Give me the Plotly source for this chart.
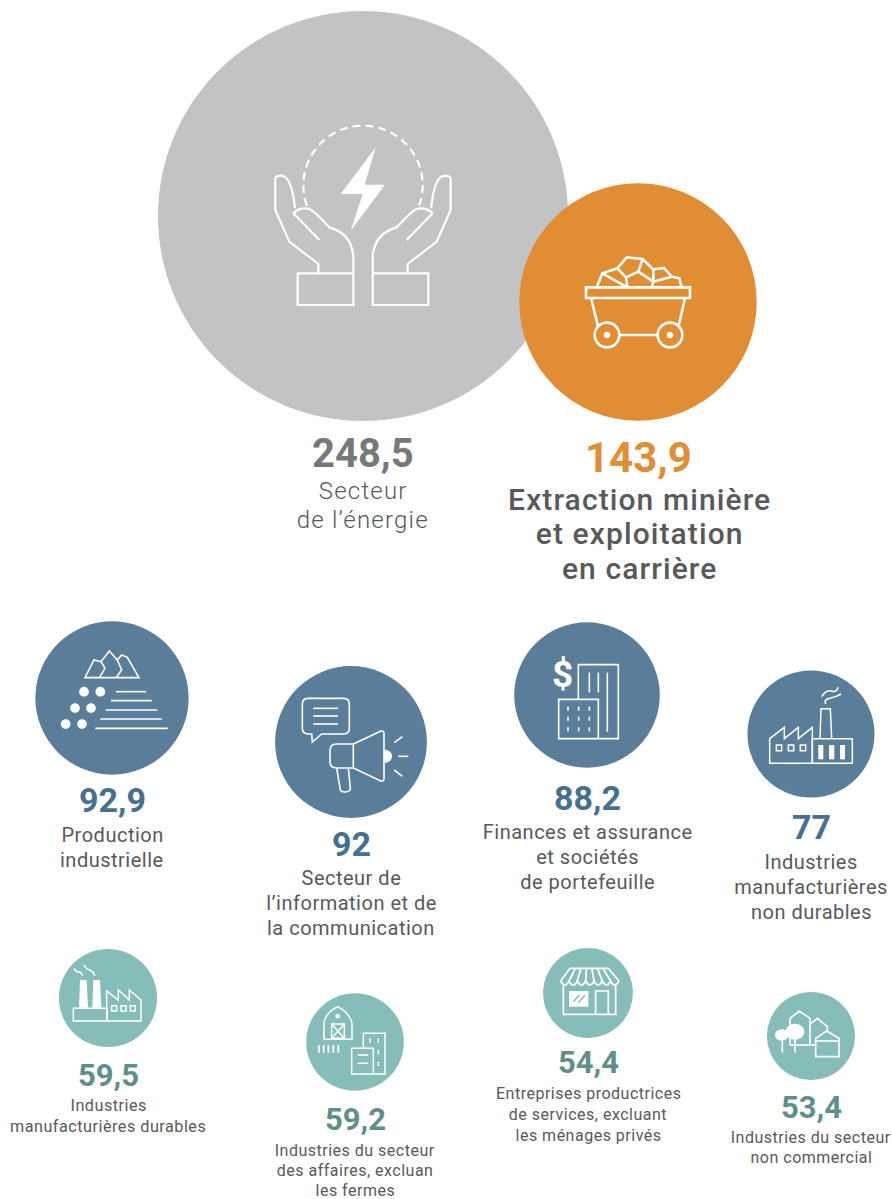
import re
import numpy as np
import plotly.graph_objects as go

W, H = 892, 1199

# ---- data ----
value_labels = ["248,5", "143,9", "92,9", "92", "88,2", "77", "59,5", "59,2", "54,4", "53,4"]
values = [248.5, 143.9, 92.9, 92, 88.2, 77, 59.5, 59.2, 54.4, 53.4]
categories = [
    ["Secteur", "de l’énergie"],
    ["Extraction minière", "et exploitation", "en carrière"],
    ["Production", "industrielle"],
    ["Secteur de", "l’information et de", "la communication"],
    ["Finances et assurance", "et sociétés", "de portefeuille"],
    ["Industries", "manufacturières", "non durables"],
    ["Industries", "manufacturières durables"],
    ["Industries du secteur", "des affaires, excluan", "les fermes"],
    ["Entreprises productrices", "de services, excluant", "les ménages privés"],
    ["Industries du secteur", "non commercial"],
]

# ---- layout (pixel positions on the page) ----
centre_x = [363, 638, 112, 351, 587, 811, 108, 355, 588, 811]
centre_y = [216, 302, 698, 742, 695, 734, 998, 1042, 993, 1036]
value_y = [453, 457, 800, 844, 798, 827, 1075, 1119, 1062, 1107]
label_first_y = [491, 499, 835, 878, 832, 862, 1105, 1150, 1093, 1137]
label_step = [29, 34.5, 24.5, 25, 25, 25, 21, 20, 21, 20]
value_size = [40, 42, 34, 34, 34, 34, 31, 31, 31, 31]
label_size = [24, 30, 20, 20, 20, 20, 16.2, 16, 16, 16]
label_weight = [300, 500, 400, 400, 400, 400, 400, 400, 400, 400]
fill_colors = ["#C2C4C3", "#E08D33", "#5A7D9A", "#5A7D9A", "#5A7D9A", "#5A7D9A",
               "#87BDB8", "#87BDB8", "#87BDB8", "#87BDB8"]
value_colors = ["#77787A", "#E08D33", "#46708F", "#46708F", "#46708F", "#46708F",
                "#5F8F8B", "#5F8F8B", "#5F8F8B", "#5F8F8B"]
LABEL_COLOR = "#58595B"
FONT = "Roboto"
PX_PER_UNIT = 1.65

fig = go.Figure()
fig.add_trace(go.Scatter(
    x=centre_x, y=centre_y, mode="markers",
    marker=dict(size=values, sizemode="diameter", sizeref=1 / PX_PER_UNIT,
                color=fill_colors, line=dict(width=0), opacity=1),
    hoverinfo="skip", showlegend=False, cliponaxis=False,
))

# ---- text ----
annotations = []
def add_text(x, y, text, size, color, weight=400):
    annotations.append(dict(x=x, y=y, xref="x", yref="y", text=text, showarrow=False,
                            xanchor="center", yanchor="middle",
                            font=dict(family=FONT, size=size, color=color, weight=weight)))

for i, lines in enumerate(categories):
    add_text(centre_x[i], value_y[i], value_labels[i], value_size[i], value_colors[i], 700)
    for j, line in enumerate(lines):
        add_text(centre_x[i] + (1 if i == 1 else 0), label_first_y[i] + j * label_step[i], line,
                 label_size[i], LABEL_COLOR, label_weight[i])
add_text(562, 674, "$", 37, "#FFFFFF", 700)

# ---- icons: outlines traced in zoomed crop coordinates ----
shapes = []
def tf(path, x0, y0, mirror=None):
    out, idx = [], 0
    for tok in re.findall(r"[MLQCZ]|-?\d+\.?\d*", path):
        if tok.isalpha():
            out.append(tok)
        else:
            v = float(tok)
            if idx % 2 == 0:
                if mirror is not None:
                    v = mirror - v
                out.append(f"{x0 + v / 3:.2f}")
            else:
                out.append(f"{y0 + v / 3:.2f}")
            idx += 1
    res = ""
    i = 0
    while i < len(out):
        if out[i].isalpha():
            res += out[i]; i += 1
            while i < len(out) and not out[i].isalpha():
                res += out[i] + "," + out[i + 1] + " "; i += 2
        else:
            i += 1
    return res

def stroke(path, x0, y0, lw=1.5, color="#FFFFFF", mirror=None, dash=None):
    shapes.append(dict(type="path", path=tf(path, x0, y0, mirror), xref="x", yref="y",
                       line=dict(color=color, width=lw, **({"dash": dash} if dash else {})),
                       fillcolor="rgba(0,0,0,0)"))

def fill(path, x0, y0, color="#FFFFFF"):
    shapes.append(dict(type="path", path=tf(path, x0, y0), xref="x", yref="y",
                       line=dict(color=color, width=0), fillcolor=color))

def circ_path(cx, cy, rx, ry=None):
    ry = rx if ry is None else ry
    k = 0.5523
    return (f"M {cx-rx},{cy} C {cx-rx},{cy-k*ry} {cx-k*rx},{cy-ry} {cx},{cy-ry} "
            f"C {cx+k*rx},{cy-ry} {cx+rx},{cy-k*ry} {cx+rx},{cy} "
            f"C {cx+rx},{cy+k*ry} {cx+k*rx},{cy+ry} {cx},{cy+ry} "
            f"C {cx-k*rx},{cy+ry} {cx-rx},{cy+k*ry} {cx-rx},{cy} Z")

def rect_path(a, b, c, d):
    return f"M {a},{b} L {c},{b} L {c},{d} L {a},{d} Z"

# hands + bolt
o = (250, 110)
hand = [
    "M 205,488 L 205,462 L 118,395 L 76,300 L 76,205 Q 78,197 95,197 Q 125,200 135,295",
    "M 130,310 L 208,390",
    "M 130,310 Q 150,290 178,297 Q 195,305 238,352 Q 305,370 310,440 L 310,585 L 143,585 L 143,490 L 310,490",
]
for p in hand:
    stroke(p, *o, lw=2.2)
    stroke(p, *o, lw=2.2, mirror=678)
angles = np.radians(np.linspace(200, -20, 60))
arc = "M " + " L ".join(f"{339 + 179 * np.cos(a):.1f},{226 - 179 * np.sin(a):.1f}" for a in angles)
stroke(arc, *o, lw=2.2, dash="8px,5px")
fill("M 377,112 L 272,252 L 338,252 L 302,362 L 405,224 L 344,224 Z", *o)

# mine cart
o = (570, 240)
for p in [rect_path(48, 142, 360, 174), "M 63,174 L 85,262", "M 345,174 L 325,262", "M 150,285 L 262,285",
          circ_path(111, 285, 37), circ_path(300, 285, 37),
          "M 80,142 L 97,100 L 142,85 L 170,52 L 218,57 L 250,88 L 282,84 L 305,110 L 328,115 L 335,142",
          "M 97,100 L 172,142", "M 142,85 L 168,112 L 172,142", "M 168,112 L 205,95 L 218,57",
          "M 205,95 L 250,125 L 245,142", "M 250,125 L 305,110", "M 250,88 L 250,125"]:
    stroke(p, *o, lw=2.6)
fill(circ_path(111, 285, 10), *o)
fill(circ_path(300, 285, 10), *o)

# mountains and gravel
o = (40, 630)
for p in ["M 135,143 L 297,143 L 262,82 L 245,75 L 232,90 L 208,63 L 183,95 L 162,90 Z",
          "M 183,95 L 195,115 L 178,143", "M 232,90 L 245,120 L 228,143",
          "M 228,185 L 318,185", "M 213,212 L 335,212", "M 197,240 L 352,240",
          "M 181,267 L 366,267", "M 166,295 L 383,295"]:
    stroke(p, *o, lw=1.6)
for c in [(132, 185), (181, 185), (105, 234), (153, 234), (77, 282), (126, 282)]:
    fill(circ_path(c[0], c[1], 14.5), *o)

# megaphone
o = (280, 680)
for p in ["M 85,55 L 190,55 Q 208,55 208,72 L 208,145 Q 208,162 190,162 L 125,162 L 97,186 L 95,162 L 85,162 Q 67,162 67,145 L 67,72 Q 67,55 85,55 Z",
          "M 100,85 L 174,85", "M 100,108 L 174,108", "M 100,132 L 174,132",
          "M 220,192 L 303,153 Q 312,152 312,160 L 312,295 Q 312,305 302,303 L 220,264",
          "M 220,192 L 170,192 Q 150,192 150,212 L 150,245 Q 150,264 170,264 L 220,264 Z",
          "M 170,264 L 181,330 Q 185,337 195,336 Q 212,335 211,325 L 205,264",
          "M 343,188 L 367,170", "M 355,229 L 385,229", "M 343,270 L 367,289"]:
    stroke(p, *o, lw=1.6)
fill("M 312,208 Q 336,212 336,229 Q 336,246 312,250 Z", *o)

# finance buildings
o = (530, 650)
for p in ["M 145,148 L 145,44 L 265,44 L 265,266 L 205,266", rect_path(86, 148, 205, 266),
          "M 178,68 L 178,127", "M 205,68 L 205,127", "M 232,68 L 232,245"]:
    stroke(p, *o, lw=1.6)
for wx in (114, 146, 178):
    for wy in (176, 206, 238):
        stroke(f"M {wx},{wy-6} L {wx},{wy+6}", *o, lw=1.6)

# factory (blue)
o = (755, 680)
for p in ["M 44,250 L 44,176 L 88,142 L 88,176 L 130,142 L 130,176 L 172,142 L 172,250 Z",
          rect_path(172, 176, 292, 250), "M 195,176 L 198,86 L 226,86 L 230,176",
          rect_path(64, 195, 80, 212), rect_path(100, 195, 116, 212), rect_path(136, 195, 152, 212),
          "M 212,72 Q 205,58 225,55 Q 245,50 258,42", "M 200,50 Q 215,25 235,35 Q 245,35 250,22"]:
    stroke(p, *o, lw=1.5)
for a, b in [(190, 205), (222, 238), (255, 270)]:
    fill(rect_path(a, 195, b, 238), *o)

# factory (teal)
o = (60, 955)
fill("M 57,158 L 60,75 L 80,75 L 84,158 Z", *o)
fill("M 97,158 L 100,75 L 120,75 L 124,158 Z", *o)
for p in [rect_path(40, 160, 142, 198),
          "M 142,198 L 243,198 L 243,135 L 208,105 L 208,135 L 175,105 L 175,135 L 140,108 L 140,198",
          rect_path(155, 152, 170, 168), rect_path(183, 152, 198, 168), rect_path(211, 152, 226, 168),
          "M 42,40 Q 50,55 58,50 Q 66,55 68,62", "M 72,30 Q 80,45 90,45 Q 100,50 105,62"]:
    stroke(p, *o, lw=1.5)

# barn and offices
o = (305, 1000)
for p in ["M 57,118 L 57,70 Q 60,40 98,20 Q 135,40 141,70 L 141,118 Z",
          rect_path(80, 72, 118, 115), "M 80,72 L 118,115", "M 118,72 L 80,115",
          "M 175,145 L 175,100 L 240,100 L 240,222 L 205,222",
          rect_path(140, 145, 205, 222), "M 158,165 L 190,165", "M 158,190 L 190,190",
          "M 195,115 L 195,128", "M 220,115 L 220,128", "M 220,150 L 220,163", "M 220,185 L 220,198"]:
    stroke(p, *o, lw=1.5)
for fx in (42, 56, 70, 85, 100):
    stroke(f"M {fx},135 L {fx},158", *o, lw=1.8)
fill(circ_path(98, 48, 7), *o)

# shop
o = (545, 955)
scallops = "M 47,78"
ribs = []
for k in range(7):
    a, b = 47 + 25 * k, 47 + 25 * (k + 1)
    scallops += f" Q {(a+b)/2},102 {b},78"
    ribs.append(f"M {a},78 L {75 + 16.4 * k},40")
ribs.append("M 222,78 L 190,40")
for p in ["M 75,40 L 190,40", scallops, *ribs,
          "M 55,92 L 55,178 L 212,178 L 212,92", "M 152,178 L 152,108 L 190,108 L 190,178"]:
    stroke(p, *o, lw=1.7)
fill("M 72,108 L 130,108 L 130,155 L 72,155 Z", *o)
stroke("M 85,140 L 103,120", *o, lw=1.5, color="#87BDB8")
stroke("M 100,143 L 120,120", *o, lw=1.5, color="#87BDB8")

# park and houses
o = (765, 985)
for p in ["M 75,180 L 75,100 L 103,78 L 135,100 L 135,180", "M 75,180 L 152,180",
          "M 135,118 L 157,100 L 187,125 L 187,142",
          "M 152,215 L 152,160 L 185,138 L 222,160 L 222,215 Z", "M 152,168 L 222,168",
          "M 52,165 L 52,203", "M 90,160 L 90,203"]:
    stroke(p, *o, lw=1.6)
fill(circ_path(50, 150, 20, 17), *o)
fill(circ_path(90, 140, 28, 24), *o)

fig.update_layout(
    width=W, height=H, margin=dict(l=0, r=0, t=0, b=0, pad=0),
    paper_bgcolor="#FFFFFF", plot_bgcolor="#FFFFFF", showlegend=False,
    xaxis=dict(range=[0, W], visible=False, fixedrange=True),
    yaxis=dict(range=[H, 0], visible=False, fixedrange=True),
    shapes=shapes, annotations=annotations,
    font=dict(family=FONT),
)
# Page reset and the reference's slight tracking on the non-bold captions
post = """
document.body.style.margin='0';document.body.style.overflow='hidden';
function track(){document.querySelectorAll('.annotation-text').forEach(function(t){
  var fs=parseFloat(t.style.fontSize), w=t.style.fontWeight;
  if(w==='700'||w==='bold') return;
  t.style.letterSpacing=(fs>=28?'1.1px':fs>=24?'1.2px':'0.5px');
});}
track();setTimeout(track,0);setTimeout(track,200);
"""
fig.write_html("out.html", config=dict(displayModeBar=False), post_script=post)
